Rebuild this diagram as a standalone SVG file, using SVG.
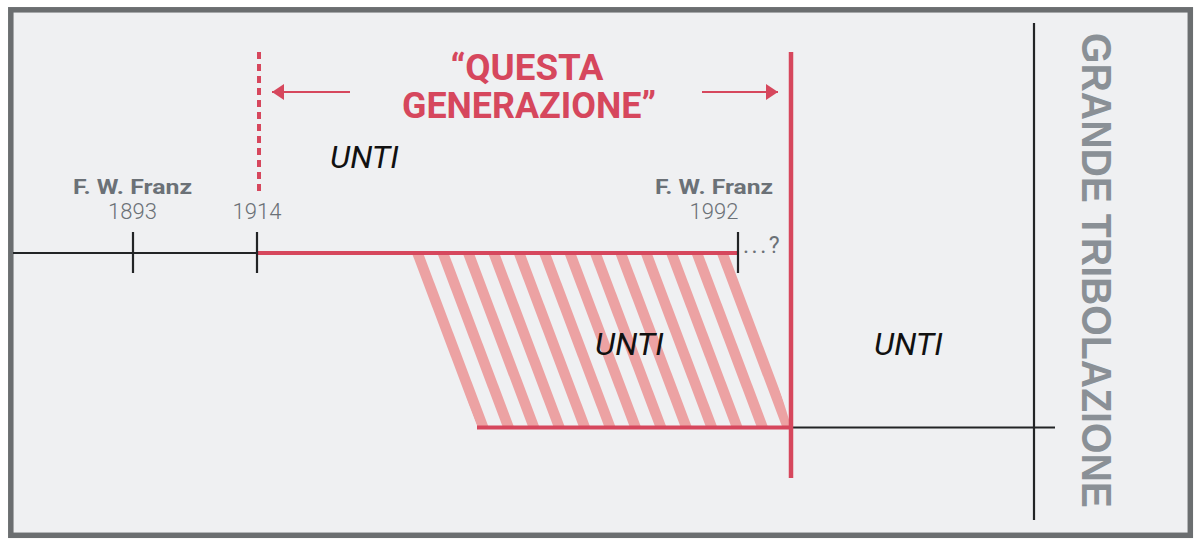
<svg xmlns="http://www.w3.org/2000/svg" width="1200" height="547" viewBox="0 0 1200 547">
  <defs>
    <style>
      .red { stroke: #d6475d; fill: none; }
      .blk { stroke: #222426; fill: none; stroke-width: 2.2; }
      .stripe { stroke: #eca2a3; stroke-width: 10.5; fill: none; }
      .title { font-family: Roboto, "Liberation Sans", sans-serif; font-weight: bold; font-size: 37px; fill: #d6475d; text-anchor: middle; }
      .name { font-family: Roboto, "Liberation Sans", sans-serif; font-weight: bold; font-size: 21px; fill: #6b7177; text-anchor: middle; }
      .year { font-family: Roboto, "Liberation Sans", sans-serif; font-weight: 300; font-size: 22px; fill: #6b7177; text-anchor: middle; }
      .unti { font-family: Roboto, "Liberation Sans", sans-serif; font-style: italic; font-size: 32px; fill: #111; }
      .vert { font-family: "Liberation Sans", Arial, sans-serif; font-weight: bold; font-size: 42px; fill: #8a9096; }
    </style>
    <marker id="ah" viewBox="0 0 12 16" refX="12" refY="8" markerWidth="12" markerHeight="16" markerUnits="userSpaceOnUse" orient="auto">
      <path d="M0,0 L12,8 L0,16 Z" fill="#d6475d"/>
    </marker>
    <clipPath id="para">
      <polygon points="409,255 738,255 791,426 477,426"/>
    </clipPath>
  </defs>

  <rect x="0" y="0" width="1200" height="547" fill="#ffffff"/>
  <g id="frame">
    <rect x="10.8" y="9.8" width="1179.5" height="525.5" fill="#eff0f2" stroke="#6b6e70" stroke-width="5.5"/>
  </g>

  <g id="hatch" clip-path="url(#para)">
    <g class="stripe">
      <line x1="414.5" y1="245" x2="486" y2="435"/>
      <line x1="439.9" y1="245" x2="511.4" y2="435"/>
      <line x1="465.3" y1="245" x2="536.8" y2="435"/>
      <line x1="490.7" y1="245" x2="562.2" y2="435"/>
      <line x1="516.1" y1="245" x2="587.6" y2="435"/>
      <line x1="541.5" y1="245" x2="613" y2="435"/>
      <line x1="566.9" y1="245" x2="638.4" y2="435"/>
      <line x1="592.3" y1="245" x2="663.8" y2="435"/>
      <line x1="617.7" y1="245" x2="689.2" y2="435"/>
      <line x1="643.1" y1="245" x2="714.6" y2="435"/>
      <line x1="668.5" y1="245" x2="740" y2="435"/>
      <line x1="693.9" y1="245" x2="765.4" y2="435"/>
      <line x1="719.3" y1="245" x2="790.8" y2="435"/>
      <line x1="744.7" y1="245" x2="816.2" y2="435"/>
    </g>
  </g>

  <g id="connectors">
    <line class="blk" x1="13" y1="253" x2="257" y2="253"/>
    <line class="red" stroke-width="4" x1="257" y1="253" x2="738" y2="253"/>
    <line class="blk" x1="133" y1="232" x2="133" y2="273"/>
    <line class="blk" x1="257" y1="232" x2="257" y2="273"/>
    <line class="blk" x1="738" y1="232" x2="738" y2="273"/>
    <line class="red" stroke-width="4" x1="477" y1="427.5" x2="791" y2="427.5"/>
    <line class="blk" x1="791" y1="427.5" x2="1055" y2="427.5"/>
    <line class="red" stroke-width="4" stroke-dasharray="7 5" x1="259" y1="52" x2="259" y2="192"/>
    <line class="red" stroke-width="4.5" x1="791" y1="52" x2="791" y2="478"/>
    <line class="blk" stroke-width="2.5" x1="1034" y1="23" x2="1034" y2="520"/>
    <line class="red" stroke-width="2" x1="350" y1="92" x2="272" y2="92" marker-end="url(#ah)"/>
    <line class="red" stroke-width="2" x1="702" y1="92" x2="778" y2="92" marker-end="url(#ah)"/>
  </g>

  <g id="title">
    <text class="title"><tspan x="527" y="80" textLength="153" lengthAdjust="spacingAndGlyphs">“QUESTA</tspan><tspan x="529" y="118" textLength="254" lengthAdjust="spacingAndGlyphs">GENERAZIONE”</tspan></text>
  </g>

  <g id="franz1893">
    <text class="name" x="132.5" y="194" textLength="119" lengthAdjust="spacingAndGlyphs">F. W. Franz</text>
    <text class="year" x="132.5" y="219">1893</text>
  </g>
  <g id="y1914">
    <text class="year" x="257" y="219">1914</text>
  </g>
  <g id="franz1992">
    <text class="name" x="714" y="194" textLength="118" lengthAdjust="spacingAndGlyphs">F. W. Franz</text>
    <text class="year" x="714" y="219">1992</text>
  </g>
  <g id="question">
    <text x="743" y="253" font-family="Roboto, 'Liberation Sans', sans-serif" font-size="23" fill="#6b7177" letter-spacing="2.5">...?</text>
  </g>

  <g id="unti1"><text class="unti" x="330" y="168">UNTI</text></g>
  <g id="unti2"><text class="unti" x="595" y="355">UNTI</text></g>
  <g id="unti3"><text class="unti" x="874" y="355">UNTI</text></g>

  <g id="tribolazione">
    <text class="vert" transform="translate(1082,33) rotate(90)" x="0" y="0" textLength="475" lengthAdjust="spacingAndGlyphs">GRANDE TRIBOLAZIONE</text>
  </g>
</svg>
